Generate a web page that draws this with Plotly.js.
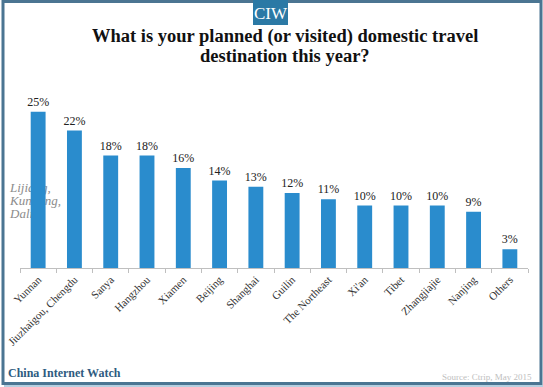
<!DOCTYPE html>
<html>
<head>
<meta charset="utf-8">
<script src="https://cdn.plot.ly/plotly-3.0.1.min.js"></script>
<style>html,body{margin:0;padding:0;background:#fff;}#chart{width:543px;height:387px;}</style>
</head>
<body>
<div id="chart"></div>
<script>
const categories = ["Yunnan", "Jiuzhaigou, Chengdu", "Sanya", "Hangzhou", "Xiamen", "Beijing", "Shanghai", "Guilin", "The Northeast", "Xi'an", "Tibet", "Zhangjiajie", "Nanjing", "Others"];
const shares = [25, 22, 18, 18, 16, 14, 13, 12, 11, 10, 10, 10, 9, 3];
const shareLabels = shares.map(v => v + "%");
const titleLines = ["What is your planned (or visited) domestic travel", "destination this year?"];
const yunnanNote = ["Lijiang,", "Kunming,", "Dali"];

const W = 543, H = 387;
const m = {l: 20, r: 15, t: 93, b: 119};
const pw = W - m.l - m.r, ph = H - m.t - m.b;
const px = x => (x - m.l) / pw;
const py = y => (H - m.b - y) / ph;

const serif = "Liberation Serif, Times New Roman, serif";
const frame = "#4b7592";

const data = [{
  type: "bar",
  x: categories,
  y: shares,
  text: shareLabels,
  textposition: "outside",
  constraintext: "none",
  cliponaxis: false,
  textfont: {family: serif, size: 12, color: "#222"},
  marker: {color: "#2a8ccd"},
  hoverinfo: "skip"
}];

const noteY = [186.5, 199.5, 212.5];
const noteShapes = yunnanNote.map((t, i) => ({
  type: "rect", xref: "paper", yref: "paper",
  x0: px(4), x1: px(80), y0: py(noteY[i] + 6), y1: py(noteY[i] - 6),
  line: {width: 0}, fillcolor: "rgba(0,0,0,0)", layer: "below",
  label: {text: "<i>" + t + "</i>", textposition: "middle left", padding: 3,
          font: {family: serif, size: 13, color: "#8c8c8c"}}
}));

const titleY = [36, 56];
const titleAnns = titleLines.map((t, i) => ({
  text: "<b>" + t + "</b>", xref: "paper", yref: "paper",
  x: px(285), y: py(titleY[i]), xanchor: "center", yanchor: "middle", showarrow: false,
  font: {family: serif, size: 18.5, color: "#111"}
}));

const layout = {
  width: W, height: H,
  margin: m,
  paper_bgcolor: "#fff",
  plot_bgcolor: "rgba(0,0,0,0)",
  showlegend: false,
  bargap: 0.59,
  xaxis: {
    type: "category",
    tickangle: -45,
    tickfont: {family: serif, size: 11, color: "#333"},
    showline: true, linecolor: "#bfbfbf", linewidth: 1,
    ticks: "outside", tickson: "boundaries", ticklen: 4, tickcolor: "#bfbfbf",
    showgrid: false, zeroline: false,
    fixedrange: true
  },
  yaxis: {
    range: [0, 28],
    visible: false,
    showgrid: false, zeroline: false,
    fixedrange: true
  },
  shapes: [
    {type: "rect", xref: "paper", yref: "paper", x0: px(3), x1: px(541), y0: py(383.5), y1: py(1.5), line: {color: frame, width: 3}, layer: "above"},
    {type: "line", xref: "paper", yref: "paper", x0: px(4), x1: px(543), y0: py(386), y1: py(386), line: {color: "#b5cfe0", width: 2}},
    {type: "rect", xref: "paper", yref: "paper", x0: px(253), x1: px(288), y0: py(25), y1: py(0), line: {width: 0}, fillcolor: "#2b79a5", layer: "above"}
  ].concat(noteShapes),
  annotations: titleAnns.concat([
    {text: "CIW", xref: "paper", yref: "paper", x: px(270.5), y: py(13), xanchor: "center", yanchor: "middle", showarrow: false,
     font: {family: serif, size: 17, color: "#fff"}},
    {text: "<b>China Internet Watch</b>", xref: "paper", yref: "paper", x: px(6), y: py(373), xanchor: "left", yanchor: "middle", showarrow: false,
     font: {family: serif, size: 12, color: "#2e5b80"}},
    {text: "Source: Ctrip, May 2015", xref: "paper", yref: "paper", x: px(534), y: py(377), xanchor: "right", yanchor: "middle", showarrow: false,
     font: {family: serif, size: 9, color: "#c0c0c0"}}
  ])
};

Plotly.newPlot("chart", data, layout, {displayModeBar: false, staticPlot: true});
</script>
</body>
</html>
